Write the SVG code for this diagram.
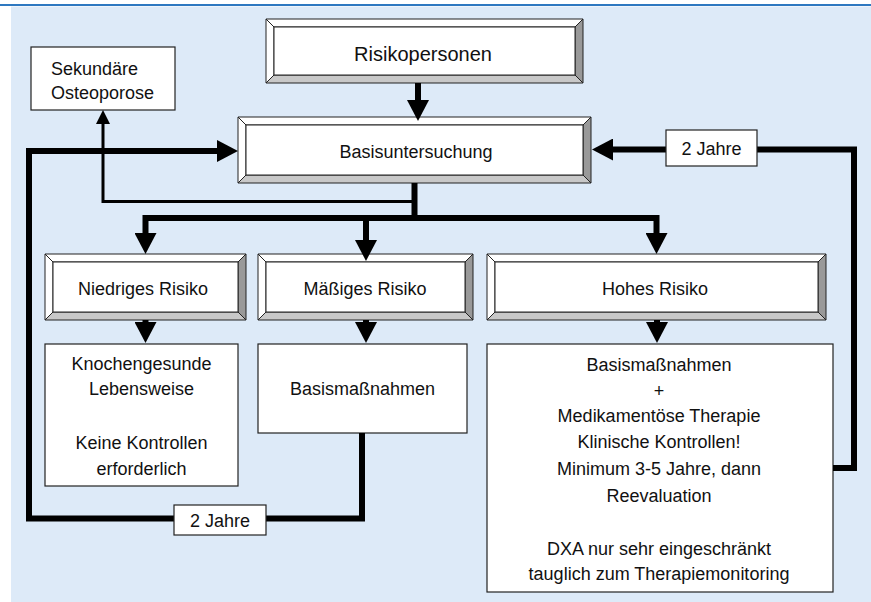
<svg xmlns="http://www.w3.org/2000/svg" width="871" height="602" viewBox="0 0 871 602">
<defs>
<style>
.t{font-family:"Liberation Sans",Arial,sans-serif;font-size:18px;fill:#111;text-anchor:middle}
.big{font-size:20px}
.lt{fill:#fff;stroke:#222;stroke-width:1}
.rt{fill:#999;stroke:#222;stroke-width:1}
.bm{fill:#c8c8c8;stroke:#222;stroke-width:1}
.face{fill:#fff;stroke:#222;stroke-width:1}
.box{fill:#fff;stroke:#222;stroke-width:1.2}
.thick{fill:none;stroke:#000;stroke-width:6;stroke-linejoin:miter}
.thin{fill:none;stroke:#000;stroke-width:3}
</style>
<marker id="ah" markerUnits="userSpaceOnUse" markerWidth="22" markerHeight="22" viewBox="0 0 22 22" refX="3" refY="11" orient="auto-start-reverse"><path d="M0,0 L21,11 L0,22 z" fill="#000"/></marker>
<marker id="ahs" markerUnits="userSpaceOnUse" markerWidth="15" markerHeight="14" viewBox="0 0 15 14" refX="2" refY="7" orient="auto"><path d="M0,0 L14,7 L0,14 z" fill="#000"/></marker>
</defs>
<rect x="11" y="6.5" width="860" height="596" fill="#ddeaf8"/>
<line x1="0" y1="5" x2="871" y2="5" stroke="#2e78c0" stroke-width="2"/>

<g id="n-sekundaer">
<rect class="box" x="31" y="47" width="144" height="63"/>
<text class="t" style="text-anchor:start" x="51" y="75">Sekundäre</text>
<text class="t" style="text-anchor:start" x="51" y="99">Osteoporose</text>
</g>

<g id="n-risikopersonen">
<polygon class="lt" points="266,19 583,19 575,27 274,27"/>
<polygon class="lt" points="266,19 274,27 274,75 266,83"/>
<polygon class="rt" points="583,19 583,83 575,75 575,27"/>
<polygon class="bm" points="266,83 583,83 575,75 274,75"/>
<rect class="face" x="274" y="27" width="301" height="48"/>
<text class="t big" x="423" y="61">Risikopersonen</text>
</g>

<g id="n-basis">
<polygon class="lt" points="238,117 591,117 583,125 246,125"/>
<polygon class="lt" points="238,117 246,125 246,175 238,183"/>
<polygon class="rt" points="591,117 591,183 583,175 583,125"/>
<polygon class="bm" points="238,183 591,183 583,175 246,175"/>
<rect class="face" x="246" y="125" width="337" height="50"/>
<text class="t" x="416" y="158">Basisuntersuchung</text>
</g>

<g id="n-niedrig">
<polygon class="lt" points="45,254 246,254 238,262 53,262"/>
<polygon class="lt" points="45,254 53,262 53,312 45,320"/>
<polygon class="rt" points="246,254 246,320 238,312 238,262"/>
<polygon class="bm" points="45,320 246,320 238,312 53,312"/>
<rect class="face" x="53" y="262" width="185" height="50"/>
<text class="t" x="143" y="295">Niedriges Risiko</text>
</g>

<g id="n-maessig">
<polygon class="lt" points="258,254 473,254 465,262 266,262"/>
<polygon class="lt" points="258,254 266,262 266,312 258,320"/>
<polygon class="rt" points="473,254 473,320 465,312 465,262"/>
<polygon class="bm" points="258,320 473,320 465,312 266,312"/>
<rect class="face" x="266" y="262" width="199" height="50"/>
<text class="t" x="365" y="295">Mäßiges Risiko</text>
</g>

<g id="n-hoch">
<polygon class="lt" points="487,254 826,254 818,262 495,262"/>
<polygon class="lt" points="487,254 495,262 495,312 487,320"/>
<polygon class="rt" points="826,254 826,320 818,312 818,262"/>
<polygon class="bm" points="487,320 826,320 818,312 495,312"/>
<rect class="face" x="495" y="262" width="323" height="50"/>
<text class="t" x="655" y="295">Hohes Risiko</text>
</g>

<g id="n-niedrig-massnahmen">
<rect class="box" x="45" y="344" width="193" height="142"/>
<text class="t" x="141.5" y="370">Knochengesunde</text>
<text class="t" x="141.5" y="395">Lebensweise</text>
<text class="t" x="141.5" y="449">Keine Kontrollen</text>
<text class="t" x="141.5" y="475">erforderlich</text>
</g>

<g id="n-maessig-massnahmen">
<rect class="box" x="258" y="344" width="209" height="89"/>
<text class="t" x="362.5" y="395">Basismaßnahmen</text>
</g>

<g id="n-hoch-massnahmen">
<rect class="box" x="487" y="344" width="346" height="248"/>
<text class="t" x="659" y="371">Basismaßnahmen</text>
<text class="t" x="659" y="397">+</text>
<text class="t" x="659" y="422">Medikamentöse Therapie</text>
<text class="t" x="659" y="448">Klinische Kontrollen!</text>
<text class="t" x="659" y="475">Minimum 3-5 Jahre, dann</text>
<text class="t" x="659" y="502">Reevaluation</text>
<text class="t" x="659" y="555">DXA nur sehr eingeschränkt</text>
<text class="t" x="659" y="580">tauglich zum Therapiemonitoring</text>
</g>

<g id="connectors">
<path class="thick" d="M418,83 V103" marker-end="url(#ah)"/>
<path class="thick" d="M414.5,183 V218"/>
<path class="thick" d="M145.5,236 V218 H656.5 V236" marker-start="url(#ah)" marker-end="url(#ah)"/>
<path class="thick" d="M366,218 V243" marker-end="url(#ah)"/>
<path class="thick" d="M145.5,320 V325" marker-end="url(#ah)"/>
<path class="thick" d="M366,320 V325" marker-end="url(#ah)"/>
<path class="thick" d="M657,320 V325" marker-end="url(#ah)"/>
<path class="thick" d="M362,433 V518.5 H29 V151 H220" marker-end="url(#ah)"/>
<path class="thick" d="M833,468 H854 V149.5 H610" marker-end="url(#ah)"/>
<path class="thin" d="M414.5,201.5 H103 V122" marker-end="url(#ahs)"/>
<g id="label-2jahre-oben">
<rect class="box" x="666" y="130" width="91" height="36"/>
<text class="t" x="711.5" y="155">2 Jahre</text>
</g>
<g id="label-2jahre-unten">
<rect class="box" x="174" y="505" width="92" height="30"/>
<text class="t" x="220" y="527">2 Jahre</text>
</g>
</g>
</svg>
